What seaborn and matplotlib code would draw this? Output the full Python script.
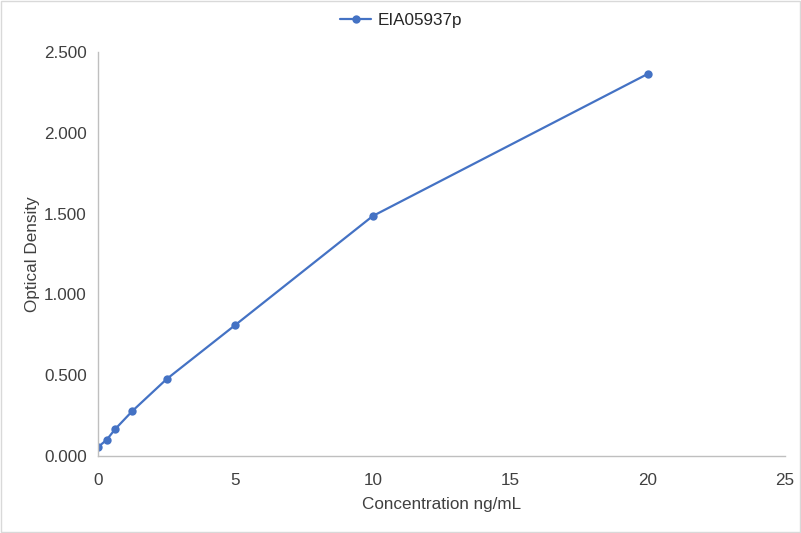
import matplotlib
matplotlib.use('Agg')
import matplotlib.pyplot as plt
import seaborn as sns
import pandas as pd

# standard curve readings
concentration = [0, 0.3125, 0.625, 1.25, 2.5, 5, 10, 20]
optical_density = [0.055, 0.099, 0.166, 0.278, 0.476, 0.811, 1.485, 2.364]
series_name = 'EIA05937p'

df = pd.DataFrame({'conc': concentration, 'od': optical_density})

sns.set_style('white')
plt.rcParams['font.family'] = ['Liberation Sans', 'DejaVu Sans']

fig = plt.figure(figsize=(8.01, 5.33), dpi=100)
ax = fig.add_axes([0.1223, 0.1445, 0.8577, 0.7579])

blue = '#4472C4'
sns.lineplot(data=df, x='conc', y='od', ax=ax, color=blue, linewidth=1.6,
             marker='o', markersize=6, markeredgewidth=0, label=series_name)

ax.set_xlim(0, 25)
ax.set_ylim(0, 2.5)
ax.set_xticks([0, 5, 10, 15, 20, 25])
ax.set_yticks([0, 0.5, 1.0, 1.5, 2.0, 2.5])
ax.set_yticklabels([f'{v:.3f}' for v in ax.get_yticks()])
ax.tick_params(axis='both', length=0, labelsize=12.3, colors='#404040')
ax.tick_params(axis='x', pad=12)
ax.tick_params(axis='y', pad=8)

for side in ['top', 'right']:
    ax.spines[side].set_visible(False)
for side in ['left', 'bottom']:
    ax.spines[side].set_color('#BFBFBF')
    ax.spines[side].set_linewidth(1)

ax.set_xlabel('Concentration ng/mL', fontsize=12.3, color='#404040', labelpad=7)
ax.set_ylabel('Optical Density', fontsize=12.3, color='#404040', labelpad=3)

leg = ax.legend(loc='center', bbox_to_anchor=(0.501, 0.962),
                bbox_transform=fig.transFigure, frameon=False,
                fontsize=12.3, handlelength=1.8, handletextpad=0.4)

# light border around the chart area
fig.patches.append(plt.Rectangle((0.001, 0.001), 0.998, 0.998, transform=fig.transFigure,
                                 fill=False, edgecolor='#D9D9D9', linewidth=1))

fig.savefig('out.png', dpi=100)
